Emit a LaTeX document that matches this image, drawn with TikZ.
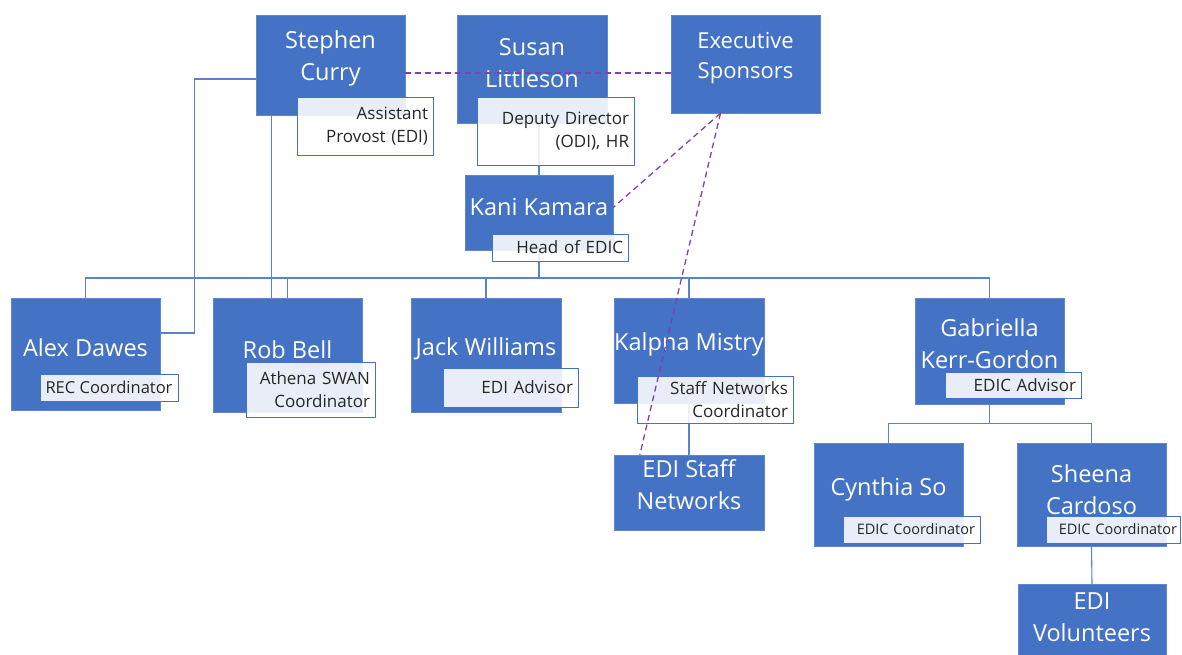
\documentclass[tikz,border=0pt]{standalone}
\usepackage{fontspec}
\setmainfont{Open Sans}
\definecolor{boxblue}{HTML}{4472C4}
\definecolor{linkblue}{HTML}{5B83CB}
\definecolor{dashpurple}{HTML}{8040B0}
\definecolor{roletext}{HTML}{262626}

\begin{document}
\begin{tikzpicture}[x=1pt, y=-1pt,
	person/.style={draw=boxblue!85!white, fill=boxblue, minimum width=149pt, inner sep=0pt},
	person text/.style={text=white, align=center, inner sep=0pt, font=\fontsize{23.5}{32}\selectfont},
	role/.style={draw=boxblue, line width=1pt, fill=white, fill opacity=0.88, text opacity=1, text=roletext,
		align=right, inner xsep=5pt, inner ysep=0pt, font=\fontsize{17}{23}\selectfont},
	small role/.style={role, font=\fontsize{14.5}{18}\selectfont},
	conn/.style={draw=linkblue, line width=1.1pt},
	sponsor/.style={draw=dashpurple, line width=1.3pt, dash pattern=on 6pt off 4pt}]
	
	\useasboundingbox (0,0) rectangle (1182,654);
	
	% top row
	\node [person, minimum height=100pt] (curry) at (330.5,65) {};
	\node [person text] (curry-n) at ([yshift=7pt]curry) {Stephen\\Curry};
	
	\node [person, minimum height=108pt, minimum width=150pt] (susan) at (532,69) {};
	\node [person text] (susan-n) at ([yshift=5.5pt]susan) {Susan\\Littleson};
	
	\node [person, minimum height=98pt] (exec) at (745.5,64) {};
	\node [person text, font=\fontsize{22}{30}\selectfont] (exec-n) at ([yshift=6pt]exec) {Executive\\Sponsors};
	
	\node [person, minimum height=75pt, minimum width=148pt] (kani) at (539,212.5) {};
	\node [person text] (kani-n) at ([yshift=5.5pt]kani) {Kani Kamara};
	
	% second row
	\node [person, minimum height=112pt] (alex) at (85.5,354) {};
	\node [person text] (alex-n) at ([yshift=6pt]alex) {Alex Dawes};
	
	\node [person, minimum height=114pt] (rob) at (287.5,355) {};
	\node [person text] (rob-n) at ([yshift=5pt]rob) {Rob Bell};
	
	\node [person, minimum height=114pt, minimum width=150pt] (jack) at (486,355) {};
	\node [person text] (jack-n) at ([yshift=6pt]jack) {Jack Williams};
	
	\node [person, minimum height=105pt, minimum width=150pt] (kalpna) at (689,350.5) {};
	\node [person text] (kalpna-n) at ([yshift=6.5pt]kalpna) {Kalpna Mistry};
	
	\node [person, minimum height=106pt] (gabriella) at (989.5,351) {};
	\node [person text] (gabriella-n) at ([yshift=7.5pt]gabriella) {Gabriella\\Kerr-Gordon};
	
	% third row
	\node [person, minimum height=75pt, minimum width=150pt] (staffnet) at (689,492.5) {};
	\node [person text] (staffnet-n) at ([yshift=7.5pt]staffnet) {EDI Staff\\Networks};
	
	\node [person, minimum height=103pt] (cynthia) at (888.5,494.5) {};
	\node [person text] (cynthia-n) at ([yshift=5.5pt]cynthia) {Cynthia So};
	
	\node [person, minimum height=103pt] (sheena) at (1091.5,494.5) {};
	\node [person text] (sheena-n) at ([yshift=4.5pt]sheena) {Sheena\\Cardoso};
	
	\node [person, minimum height=76pt, minimum width=148pt] (volunteers) at (1092,622) {};
	\node [person text] (volunteers-n) at ([yshift=5pt]volunteers) {EDI\\Volunteers};
	
	% reporting lines
	\draw [conn] (susan.south -| kani.north) -- (kani.north);
	\coordinate (bus) at (539,278);
	\draw [conn] (kani.south) -- (bus);
	\foreach \p in {alex,rob,jack,kalpna,gabriella}
	\draw [conn] (bus) -| (\p.north);
	
	\draw [conn] ([yshift=-14pt]curry.west) -- ++(-61,0) |- ([yshift=21pt]alex.east);
	\draw [conn] ([xshift=-16pt]rob.north |- curry.south) -- ([xshift=-16pt]rob.north);
	
	\draw [conn] (kalpna.south) -- (staffnet.north);
	
	\foreach \c in {cynthia,sheena}
	\draw [conn] (gabriella.south) -- ++(0,19) -| (\c.north);
	
	\draw [conn] (sheena.south) -- (volunteers.north);
	
	% role titles
	\node [role, text width=126pt, minimum height=58pt] (curry-r) at (365,126) {Assistant\\Provost (EDI)};
	\node [role, text width=147pt, minimum height=68pt] (susan-r) at (555.5,131) {Deputy Director\\(ODI), HR};
	\node [role, text width=126pt, minimum height=27pt] (kani-r) at (560,247.5) {Head of EDIC};
	\node [role, minimum width=138pt, minimum height=27pt, inner xsep=2pt, font=\fontsize{16.5}{22}\selectfont] (alex-r) at (109,387.5) {REC Coordinator};
	\node [role, text width=119pt, minimum height=55pt] (rob-r) at (310.5,389.5) {Athena SWAN\\Coordinator};
	\node [role, text width=125pt, minimum height=39pt] (jack-r) at (510.5,387.5) {EDI Advisor};
	\node [role, text width=146pt, minimum height=47pt] (kalpna-r) at (715,399.5) {Staff Networks\\Coordinator};
	\node [role, text width=126pt, minimum height=26pt] (gabriella-r) at (1013,385) {EDIC Advisor};
	\node [small role, text width=127pt, minimum height=27pt] (cynthia-r) at (911.5,529.5) {EDIC Coordinator};
	\node [small role, text width=128pt, minimum height=27pt, inner xsep=3pt] (sheena-r) at (1113,529.5) {EDIC Coordinator};
	
	% sponsor links
	\draw [sponsor] ([yshift=-8pt]curry.east) -- ([yshift=-8pt]curry.east -| exec.west);
	\draw [sponsor] ([xshift=-25pt]exec.south) -- ([yshift=5pt]kani.east);
	\draw [sponsor] ([xshift=-25pt]exec.south) -- ([xshift=26pt]staffnet.north west);
	
\end{tikzpicture}
\end{document}
